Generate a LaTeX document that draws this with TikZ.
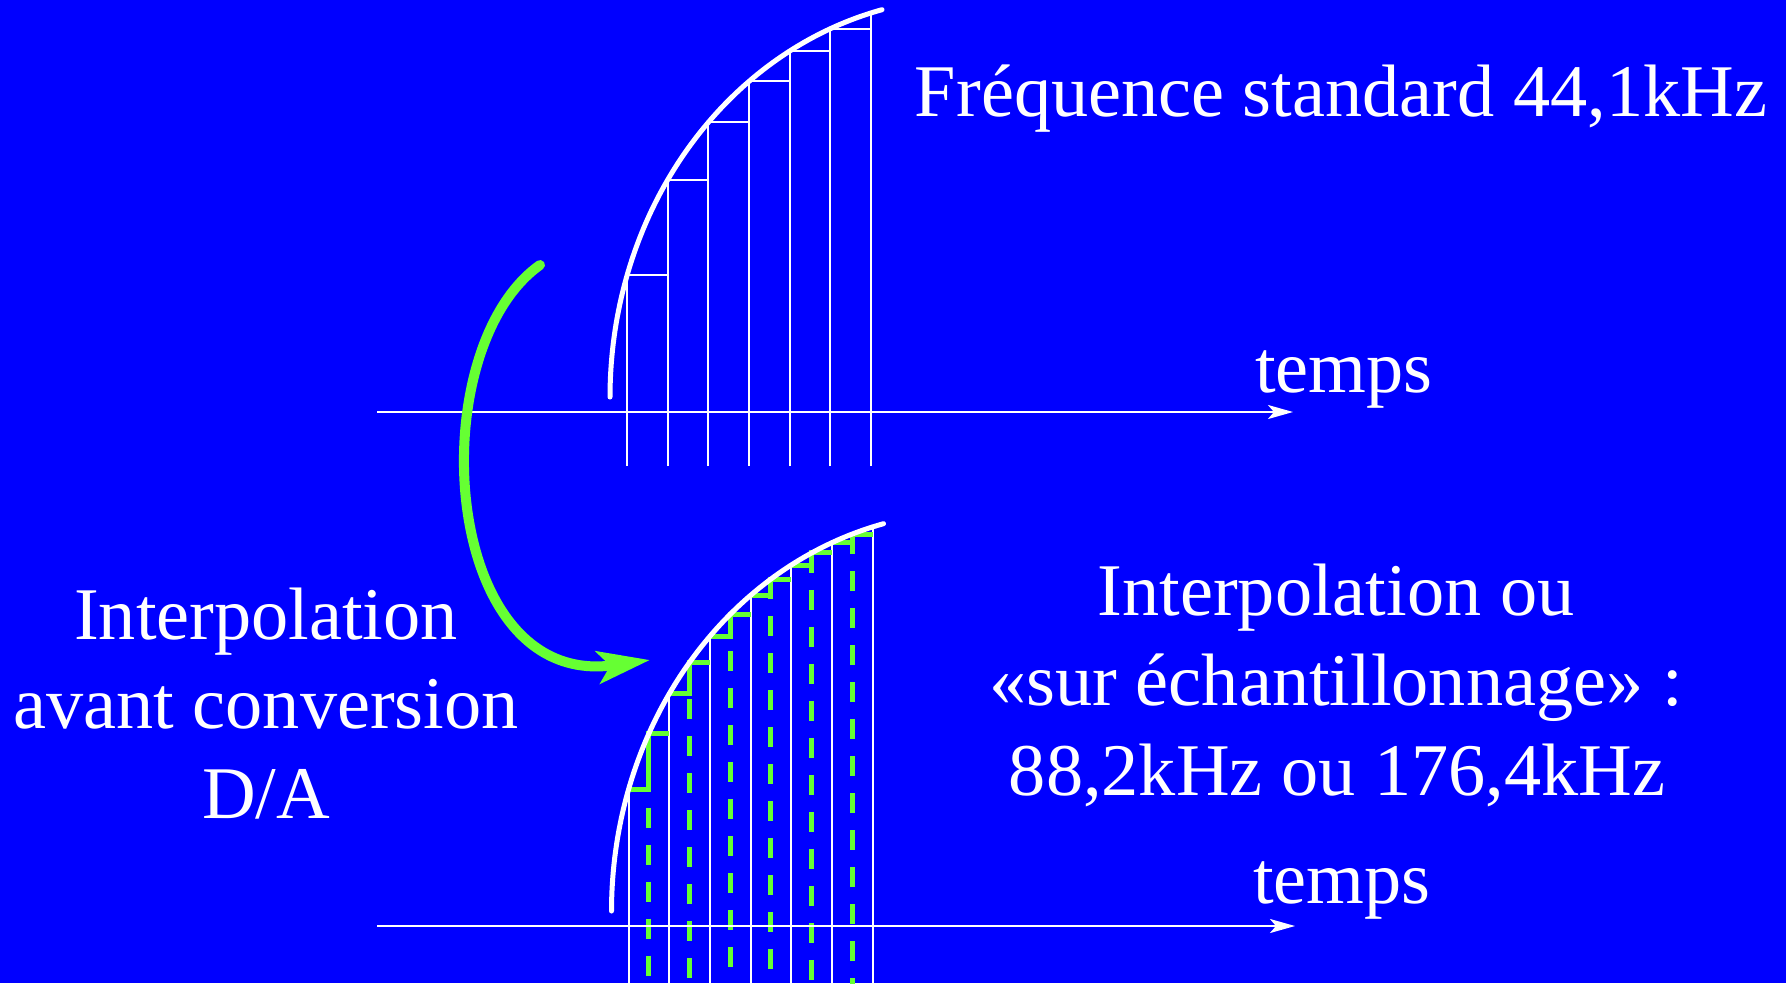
\documentclass[tikz,border=0pt]{standalone}
\usepackage{fontspec}
\setmainfont{Liberation Serif}
\usetikzlibrary{arrows.meta}
\definecolor{bg}{RGB}{0,0,255}
\definecolor{grn}{RGB}{102,255,51}
\begin{document}
\begin{tikzpicture}[x=1pt,y=-1pt,
  declare function={hy(\t)=397-399*sqrt(max(0,1-((\t-968)/358)^2));},
  axisline/.style={white,line width=2pt,-{Stealth[length=25pt,width=14pt,inset=6pt]}},
  curveline/.style={white,line width=5pt,line cap=round},
  barline/.style={white,line width=2pt},
  greenstep/.style={grn,line width=5pt},
  greendash/.style={grn,line width=5pt,dash pattern=on 20pt off 17pt},
  garrow/.style={grn,line width=10pt,line cap=round,-{Stealth[length=52pt,width=32pt,inset=12pt]}},
  lbl/.style={text=white,font=\fontsize{74.3}{90}\selectfont,inner sep=0pt,anchor=base},
]
\fill[bg] (0,0) rectangle (1786,983);
\useasboundingbox (0,0) rectangle (1786,983);

% ---------- top plot ----------
\foreach \i in {0,...,6}{
  \pgfmathsetmacro{\xx}{627+40.667*\i}
  \draw[barline] (\xx,466) -- (\xx,{hy(\xx)});
}
\foreach \i in {0,...,5}{
  \pgfmathsetmacro{\xa}{627+40.667*\i}
  \pgfmathsetmacro{\xb}{627+40.667*(\i+1)}
  \draw[barline] (\xa,{hy(\xa)}) -- (\xb,{hy(\xa)});
}
\coordinate (ax1s) at (377,412);
\coordinate (ax1e) at (1293,412);
\draw[axisline] (ax1s) -- (ax1e);
\draw[curveline] plot[domain=180:103.9,samples=80] ({968+358*cos(\x)},{397-399*sin(\x)});

% ---------- bottom plot ----------
\begin{scope}[shift={(1.5,514)}]
\foreach \i in {0,...,6}{
  \pgfmathsetmacro{\xx}{627+40.667*\i}
  \draw[barline] (\xx,470) -- (\xx,{hy(\xx)});
}
\foreach \i in {0,...,5}{
  \pgfmathsetmacro{\xa}{627+40.667*\i}
  \pgfmathsetmacro{\xb}{627+40.667*(\i+1)}
  \pgfmathsetmacro{\xm}{(\xa+\xb)/2}
  \draw[greendash] (\xm,{hy(\xm)}) -- (\xm,470);
  \draw[greenstep] (\xa,{hy(\xa)}) -- (\xm,{hy(\xa)}) -- (\xm,{hy(\xm)}) -- (\xb,{hy(\xm)});
}
\draw[curveline] plot[domain=180:103.9,samples=80] ({968+358*cos(\x)},{397-399*sin(\x)});
\end{scope}
\coordinate (ax2s) at (377,926);
\coordinate (ax2e) at (1295,926);
\draw[axisline] (ax2s) -- (ax2e);

% ---------- texts ----------
\node[lbl] (freq) at (1341,116) {Fréquence standard 44,1kHz};
\node[lbl] (temps1) at (1344,392) {temps};
\node[lbl] (temps2) at (1342,903) {temps};
\node[lbl] (left1) at (266,639) {Interpolation};
\node[lbl] (left2) at (266,728) {avant conversion};
\node[lbl] (left3) at (266,818) {D/A};
\node[lbl] (right1) at (1336,615) {Interpolation ou};
\node[lbl] (right2) at (1336,705) {«sur échantillonnage» :};
\node[lbl] (right3) at (1337,795) {88,2kHz ou 176,4kHz};

% ---------- green arrow ----------
\coordinate (gs) at (540,265);
\coordinate (ge) at (650,660);
\draw[garrow] (gs) .. controls (420,350) and (440,690) .. (ge);
\end{tikzpicture}
\end{document}
